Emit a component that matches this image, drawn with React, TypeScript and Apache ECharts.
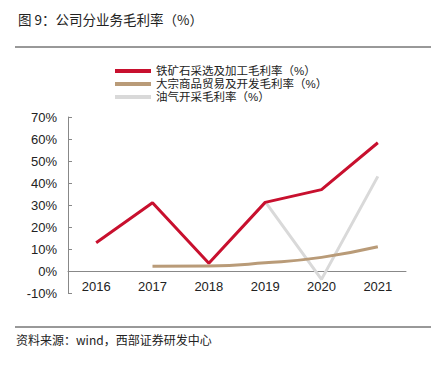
import React, { useEffect, useRef } from "react";
import * as echarts from "echarts";

const years = ["2016", "2017", "2018", "2019", "2020", "2021"];
const ironOre = [12.8, 31, 3.5, 31.2, 37, 58.3];
const commodity = [null, 2.2, 2.3, 3.7, 6.2, 11];
const oilGas = [null, null, null, 31.5, -3.8, 43];
const seriesNames = [
  "铁矿石采选及加工毛利率（%）",
  "大宗商品贸易及开发毛利率（%）",
  "油气开采毛利率（%）",
];
const titleText = "图 9：公司分业务毛利率（%）";
const sourceText = "资料来源：wind，西部证券研发中心";

export default function App() {
  const ref = useRef<HTMLDivElement>(null);
  useEffect(() => {
    document.body.style.margin = "0";
    const chart = echarts.init(ref.current!, null, { renderer: "svg" });
    const cjk = "'Noto Sans CJK SC', sans-serif";
    chart.setOption({
      animation: false,
      backgroundColor: "#fff",
      legend: {
        orient: "vertical",
        left: 110,
        top: 60,
        itemWidth: 36,
        itemHeight: 4,
        itemGap: 1,
        icon: "rect",
        textStyle: {
          fontFamily: "'Liberation Sans', 'Noto Sans CJK SC', sans-serif",
          fontSize: 11.5,
          lineHeight: 12,
          color: "#222",
        },
        data: seriesNames,
      },
      graphic: [
        {
          type: "text",
          left: 18,
          top: 12,
          style: { text: titleText, font: `13.5px ${cjk}`, fill: "#222" },
        },
        {
          type: "line",
          shape: { x1: 15, y1: 47, x2: 431, y2: 47 },
          style: { stroke: "#333", lineWidth: 1 },
        },
        {
          type: "line",
          shape: { x1: 15, y1: 327, x2: 431, y2: 327 },
          style: { stroke: "#333", lineWidth: 1 },
        },
        {
          type: "text",
          left: 16,
          top: 333,
          style: { text: sourceText, font: `12px ${cjk}`, fill: "#222" },
        },
      ],
      grid: { left: 68, right: 34, top: 117, bottom: 72 },
      xAxis: {
        type: "category",
        data: years,
        boundaryGap: true,
        offset: -22,
        axisLine: { onZero: false, lineStyle: { color: "#888" } },
        axisTick: { inside: true, length: 4, lineStyle: { color: "#888" } },
        axisLabel: {
          margin: 9,
          fontSize: 13,
          color: "#222",
          fontFamily: "'Liberation Sans', Arial, sans-serif",
        },
      },
      yAxis: {
        type: "value",
        min: -10,
        max: 70,
        interval: 10,
        splitLine: { show: false },
        axisLine: { show: true, lineStyle: { color: "#888" } },
        axisTick: { show: true, inside: true, length: 4, lineStyle: { color: "#888" } },
        axisLabel: {
          formatter: "{value}%",
          margin: 11,
          fontSize: 13,
          color: "#222",
          fontFamily: "'Liberation Sans', Arial, sans-serif",
        },
      },
      series: [
        {
          name: seriesNames[0],
          type: "line",
          data: ironOre,
          symbol: "none",
          lineStyle: { width: 3, color: "#C8102E" },
          itemStyle: { color: "#C8102E" },
          z: 3,
        },
        {
          name: seriesNames[1],
          type: "line",
          data: commodity,
          smooth: true,
          symbol: "none",
          lineStyle: { width: 3, color: "#B99B78" },
          itemStyle: { color: "#B99B78" },
          z: 2,
        },
        {
          name: seriesNames[2],
          type: "line",
          data: oilGas,
          symbol: "none",
          lineStyle: { width: 3, color: "#D9D9D9" },
          itemStyle: { color: "#D9D9D9" },
          z: 1,
        },
      ],
    });
    return () => chart.dispose();
  }, []);
  return <div ref={ref} style={{ width: 440, height: 365 }} />;
}
